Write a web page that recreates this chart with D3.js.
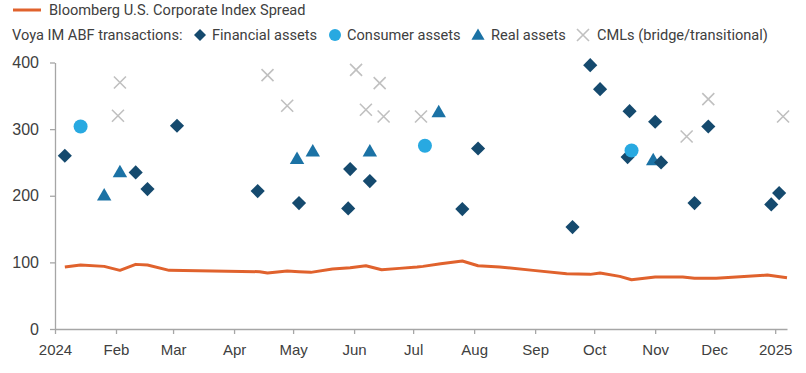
<!DOCTYPE html>
<html>
<head>
<meta charset="utf-8">
<script src="https://cdn.jsdelivr.net/npm/d3@7"></script>
<style>
  body { margin: 0; background: #fff; }
  svg { display: block; font-family: Roboto, "Liberation Sans", sans-serif; }
</style>
</head>
<body>
<svg width="806" height="373"></svg>
<script>
// Bloomberg spread line
const spreadDates = ["2024-01-06","2024-01-14","2024-01-26","2024-02-03","2024-02-11","2024-02-17","2024-02-28",
  "2024-04-14","2024-04-18","2024-04-28","2024-05-04","2024-05-10","2024-05-21","2024-05-30","2024-06-07","2024-06-15",
  "2024-06-24","2024-07-03","2024-07-06","2024-07-15","2024-07-26","2024-08-03","2024-08-14","2024-08-31","2024-09-17",
  "2024-09-29","2024-10-04","2024-10-14","2024-10-20","2024-11-01","2024-11-15","2024-11-21","2024-12-02","2024-12-28","2025-01-07"];
const spreadValues = [93, 96, 94, 88, 97, 96, 88,
  86, 84, 87, 86, 85, 90, 92, 95, 89,
  91, 93, 94, 98, 102, 95, 93, 88, 83,
  82, 84, 79, 74, 78, 78, 76, 76, 81, 77];

const financialDates = ["2024-01-06","2024-02-11","2024-02-17","2024-03-03","2024-04-13","2024-05-04","2024-05-29","2024-05-30",
  "2024-06-09","2024-07-26","2024-08-03","2024-09-20","2024-09-29","2024-10-04","2024-10-18","2024-10-19","2024-11-01",
  "2024-11-04","2024-11-21","2024-11-28","2024-12-30","2025-01-03"];
const financialValues = [260, 235, 210, 305, 207, 189, 181, 240, 222, 180, 271, 153, 396, 360, 258, 327, 311, 250, 189, 304, 187, 204];

const consumerDates = ["2024-01-14","2024-07-07","2024-10-20"];
const consumerValues = [304, 275, 268];

const realDates = ["2024-01-26","2024-02-03","2024-05-03","2024-05-11","2024-06-09","2024-07-14","2024-10-31"];
const realValues = [199, 234, 254, 265, 265, 324, 252];

const cmlDates = ["2024-02-02","2024-02-03","2024-04-18","2024-04-28","2024-06-02","2024-06-07","2024-06-14","2024-06-16",
  "2024-07-05","2024-11-17","2024-11-28","2025-01-05"];
const cmlValues = [320, 370, 381, 335, 389, 329, 369, 319, 319, 289, 345, 319];

const yTicks = [0, 100, 200, 300, 400];
const monthLabels = ["2024","Feb","Mar","Apr","May","Jun","Jul","Aug","Sep","Oct","Nov","Dec","2025"];

const parse = d3.timeParse("%Y-%m-%d");
const zip = (ds, vs) => ds.map((d, i) => ({date: parse(d), value: vs[i]}));

const svg = d3.select("svg");
const textColor = "#404040", axisColor = "#a6a6a6";

const x = d3.scaleTime()
  .domain([new Date(2024, 0, 1), new Date(2025, 0, 7)])
  .range([55, 787]);
const y = d3.scaleLinear().domain([0, 400]).range([329, 62.5]);

// axes
const xAxis = svg.append("g")
  .attr("transform", `translate(0,${y(0)})`)
  .call(d3.axisBottom(x)
    .tickValues(d3.range(13).map(i => new Date(2024, i, 1)))
    .tickFormat((d, i) => monthLabels[i])
    .tickSize(5).tickSizeOuter(0));
const yAxis = svg.append("g")
  .attr("transform", `translate(${x.range()[0]},0)`)
  .call(d3.axisLeft(y).tickValues(yTicks).tickSize(5).tickSizeOuter(0));

[xAxis, yAxis].forEach(g => {
  g.select(".domain").attr("stroke", axisColor).attr("stroke-width", 1.3);
  g.selectAll(".tick line").attr("stroke", axisColor).attr("stroke-width", 1.3);
  g.selectAll(".tick text").attr("fill", textColor).attr("font-size", 15);
});
xAxis.selectAll(".tick text").attr("dy", "0.71em").attr("y", 15);
yAxis.selectAll(".tick text").attr("x", -16).attr("dy", "0.32em").attr("font-size", 16);

// spread line
svg.append("path")
  .datum(zip(spreadDates, spreadValues))
  .attr("fill", "none")
  .attr("stroke", "#e0622d")
  .attr("stroke-width", 3)
  .attr("stroke-linejoin", "round")
  .attr("d", d3.line().x(d => x(d.date)).y(d => y(d.value)));

// markers
const cmls = svg.append("g");
zip(cmlDates, cmlValues).forEach(d => {
  const cx = x(d.date), cy = y(d.value), r = 6;
  cmls.append("path")
    .attr("d", `M${cx - r},${cy - r}L${cx + r},${cy + r}M${cx - r},${cy + r}L${cx + r},${cy - r}`)
    .attr("stroke", "#c0c0c0").attr("stroke-width", 1.6).attr("fill", "none");
});

svg.append("g").selectAll("path")
  .data(zip(realDates, realValues))
  .join("path")
  .attr("transform", d => `translate(${x(d.date)},${y(d.value)})`)
  .attr("d", d3.symbol(d3.symbolTriangle, 90))
  .attr("fill", "#1b72a5");

svg.append("g").selectAll("path")
  .data(zip(financialDates, financialValues))
  .join("path")
  .attr("transform", d => `translate(${x(d.date)},${y(d.value)}) rotate(45)`)
  .attr("d", d3.symbol(d3.symbolSquare, 100))
  .attr("fill", "#154a6e");

svg.append("g").selectAll("circle")
  .data(zip(consumerDates, consumerValues))
  .join("circle")
  .attr("cx", d => x(d.date))
  .attr("cy", d => y(d.value))
  .attr("r", 7)
  .attr("fill", "#28a9e1");

// legend
const legend = svg.append("g").attr("font-size", 14.6).attr("fill", textColor);
legend.append("line").attr("x1", 13).attr("x2", 41).attr("y1", 10).attr("y2", 10)
  .attr("stroke", "#e0622d").attr("stroke-width", 3);
legend.append("text").attr("x", 49).attr("y", 10).attr("dy", "0.35em").text("Bloomberg U.S. Corporate Index Spread");
legend.append("text").attr("x", 12).attr("y", 35).attr("dy", "0.35em").text("Voya IM ABF transactions:");

legend.append("path").attr("transform", "translate(200,35) rotate(45)")
  .attr("d", d3.symbol(d3.symbolSquare, 72)).attr("fill", "#154a6e");
legend.append("text").attr("x", 212).attr("y", 35).attr("dy", "0.35em").text("Financial assets");
legend.append("circle").attr("cx", 335).attr("cy", 35).attr("r", 6).attr("fill", "#28a9e1");
legend.append("text").attr("x", 347).attr("y", 35).attr("dy", "0.35em").text("Consumer assets");
legend.append("path").attr("transform", "translate(478,36)")
  .attr("d", d3.symbol(d3.symbolTriangle, 75)).attr("fill", "#1b72a5");
legend.append("text").attr("x", 491).attr("y", 35).attr("dy", "0.35em").text("Real assets");
legend.append("path").attr("d", "M577,29L589,41M577,41L589,29")
  .attr("stroke", "#c0c0c0").attr("stroke-width", 1.6);
legend.append("text").attr("x", 597).attr("y", 35).attr("dy", "0.35em").text("CMLs (bridge/transitional)");
</script>
</body>
</html>
